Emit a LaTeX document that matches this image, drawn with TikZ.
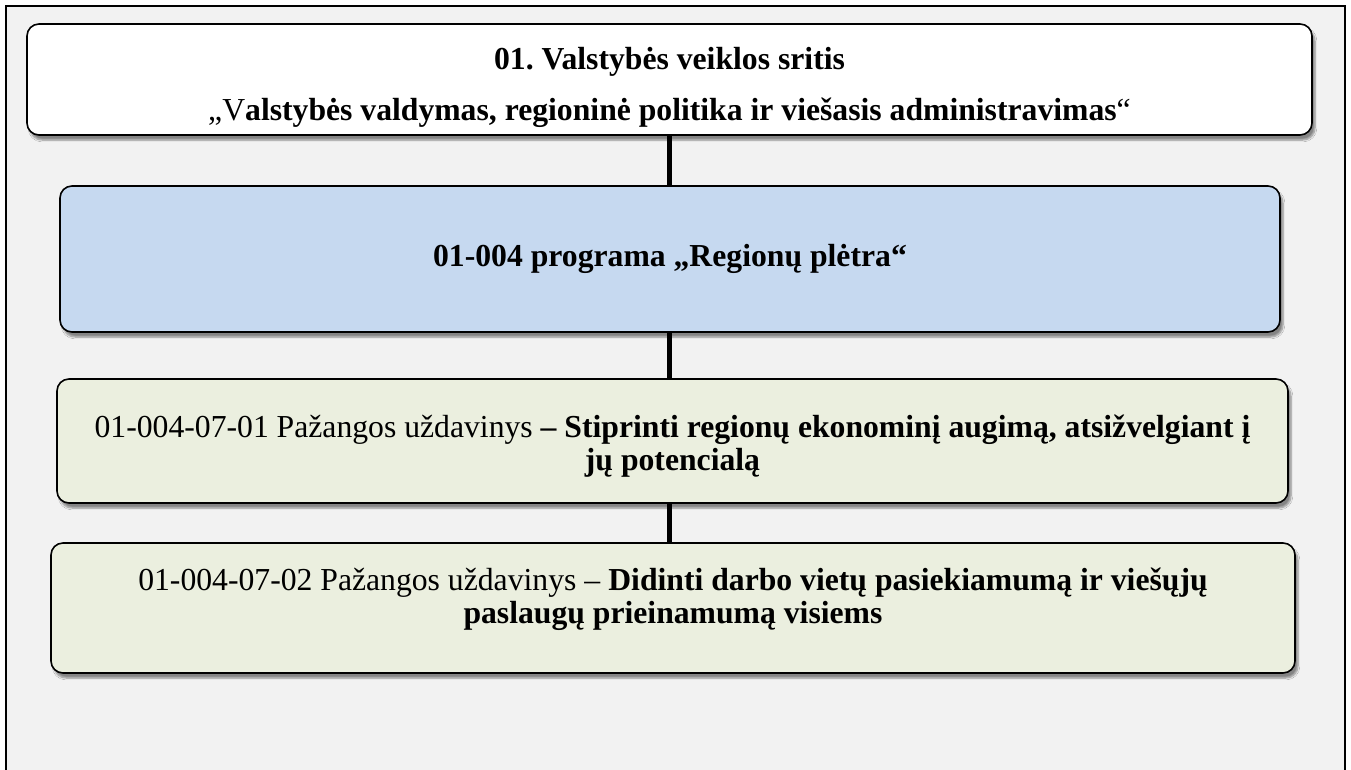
\documentclass[tikz,border=0pt]{standalone}
\usepackage{fontspec}
\setmainfont{Liberation Serif}[FakeStretch=0.99]
\usetikzlibrary{shadows.blur}
\frenchspacing

\definecolor{bggray}{HTML}{F2F2F2}
\definecolor{progblue}{HTML}{C6D9F0}
\definecolor{taskgreen}{HTML}{EBEFDF}

\begin{document}
\begin{tikzpicture}[x = 1pt, y = -1pt,
    box/.style = {draw, line width = 1.6pt, rounded corners = 12pt, inner sep = 0pt,
                  align = center, font = \fontsize{32}{33}\selectfont,
                  blur shadow = {shadow xshift = 3pt, shadow yshift = -5pt,
                                 shadow blur steps = 6, shadow opacity = 45}},
    link/.style = {line width = 5pt}]
  \useasboundingbox (0, 0) rectangle (1351, 769);
  \draw[fill = bggray, line width = 1.2pt] (6, 6) rectangle (1345, 790);

  % veiklos sritis
  \node[box, fill = white, minimum width = 1285pt, minimum height = 111pt,
        font = \fontsize{32}{51}\selectfont] (sritis) at (669.5, 79.5)
    {\rule{0pt}{38pt}\textbf{01. Valstybės veiklos sritis}\\
     „V\textbf{alstybės valdymas, regioninė politika ir viešasis administravimas}“};

  % programa
  \node[box, fill = progblue, minimum width = 1220pt, minimum height = 146pt]
    (programa) at (670, 259) {\textbf{01-004 programa „Regionų plėtra“}};

  % uzdaviniai
  \node[box, fill = taskgreen, minimum width = 1231pt, minimum height = 124pt]
    (uzd1) at (672.5, 441)
    {\rule{0pt}{32pt}01-004-07-01 Pažangos uždavinys \textbf{– Stiprinti regionų ekonominį augimą, atsižvelgiant į}\\
     \textbf{jų potencialą}};
  \node[box, fill = taskgreen, minimum width = 1244pt, minimum height = 130pt]
    (uzd2) at (673, 608)
    {01-004-07-02 Pažangos uždavinys – \textbf{Didinti darbo vietų pasiekiamumą ir viešųjų}\\
     \textbf{paslaugų prieinamumą visiems}\rule[-24pt]{0pt}{24pt}};

  \draw[link] (sritis.south) -- (sritis.south |- programa.north);
  \draw[link] (sritis.south |- programa.south) -- (sritis.south |- uzd1.north);
  \draw[link] (sritis.south |- uzd1.south) -- (sritis.south |- uzd2.north);
\end{tikzpicture}
\end{document}
